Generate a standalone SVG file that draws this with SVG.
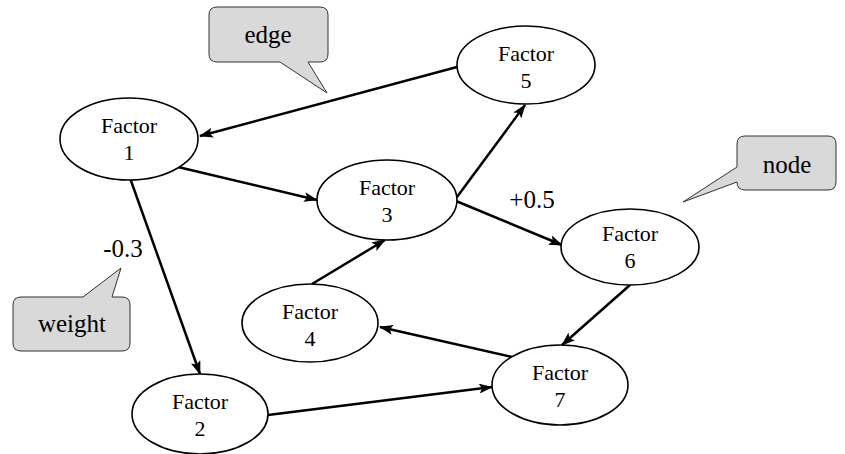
<svg xmlns="http://www.w3.org/2000/svg" width="845" height="454" viewBox="0 0 845 454">
<style>
text{font-family:'Liberation Serif','DejaVu Serif',serif}
.n ellipse{fill:#fff;stroke:#000;stroke-width:1.6}
.n text{font-size:22px;text-anchor:middle;fill:#000}
.e line{stroke:#000;stroke-width:2.5;marker-end:url(#ah)}
.c path{fill:#d9d9d9;stroke:#333;stroke-width:1}
.lbl{font-size:25px;text-anchor:middle;fill:#000}
</style>
<defs>
<marker id="ah" markerWidth="14" markerHeight="10" refX="13" refY="5" orient="auto" markerUnits="userSpaceOnUse">
<path d="M0,0 L14,5 L0,10 L3,5 Z" fill="#000"/>
</marker>
</defs>
<rect width="845" height="454" fill="#fff"/>
<g id="connectors" class="e">
<line x1="457" y1="67" x2="200" y2="136"/>
<line x1="178" y1="167" x2="317" y2="200"/>
<line x1="457" y1="197" x2="525" y2="105"/>
<line x1="456" y1="201" x2="562" y2="245"/>
<line x1="312" y1="284" x2="385" y2="240"/>
<line x1="630" y1="285" x2="562" y2="345"/>
<line x1="512" y1="357" x2="380" y2="327"/>
<line x1="268" y1="415" x2="492" y2="387"/>
<line x1="130" y1="178" x2="200" y2="374"/>
</g>
<g id="f1" class="n"><ellipse cx="129" cy="139" rx="69" ry="41"/><text x="129" y="133" font-family="Liberation Serif">Factor</text><text x="129" y="160">1</text></g>
<g id="f5" class="n"><ellipse cx="526" cy="65" rx="69" ry="39"/><text x="526" y="61">Factor</text><text x="526" y="88">5</text></g>
<g id="f3" class="n"><ellipse cx="387" cy="200" rx="70" ry="40"/><text x="387" y="195">Factor</text><text x="387" y="222">3</text></g>
<g id="f6" class="n"><ellipse cx="630" cy="247" rx="69" ry="38"/><text x="630" y="241">Factor</text><text x="630" y="268">6</text></g>
<g id="f4" class="n"><ellipse cx="310" cy="323" rx="68" ry="39"/><text x="310" y="319">Factor</text><text x="310" y="346">4</text></g>
<g id="f7" class="n"><ellipse cx="560" cy="385" rx="68" ry="40"/><text x="560" y="380">Factor</text><text x="560" y="407">7</text></g>
<g id="f2" class="n"><ellipse cx="200" cy="414" rx="68" ry="40"/><text x="200" y="409">Factor</text><text x="200" y="436">2</text></g>
<text class="lbl" x="532" y="208">+0.5</text>
<text class="lbl" x="123" y="257">-0.3</text>
<g id="callout-edge" class="c"><path d="M217,7 H320 Q328,7 328,15 V54 Q328,62 320,62 H308 L327,93 L280,62 H217 Q209,62 209,54 V15 Q209,7 217,7 Z"/><text class="lbl" x="268" y="43">edge</text></g>
<g id="callout-node" class="c"><path d="M745,136 H828 Q836,136 836,144 V182 Q836,190 828,190 H745 Q737,190 737,182 L683,202 L737,167 V144 Q737,136 745,136 Z"/><text class="lbl" x="787" y="173">node</text></g>
<g id="callout-weight" class="c"><path d="M21,297 H83 L121,268 L112,297 H122 Q130,297 130,305 V343 Q130,351 122,351 H21 Q13,351 13,343 V305 Q13,297 21,297 Z"/><text class="lbl" x="72" y="332">weight</text></g>
</svg>
